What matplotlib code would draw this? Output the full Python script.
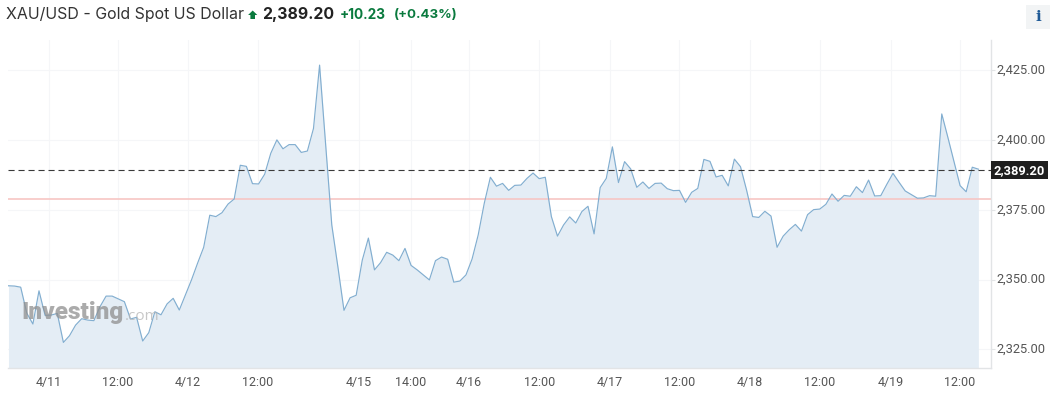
# -*- coding: utf-8 -*-
import numpy as np
import matplotlib
matplotlib.use("Agg")
import matplotlib.pyplot as plt
from matplotlib.patches import Rectangle, Polygon
from matplotlib.transforms import ScaledTranslation

W, H = 1056, 403

prices = [
    2347.8, 2347.7, 2347.3, 2338.0, 2334.1, 2346.0, 2337.2, 2337.3, 2337.9, 2327.5,
    2329.9, 2333.7, 2336.0, 2335.5, 2335.3, 2340.3, 2344.1, 2344.1, 2343.1, 2342.1,
    2335.9, 2336.5, 2328.0, 2331.0, 2338.5, 2337.4, 2341.3, 2343.3, 2339.1, 2344.5,
    2349.9, 2355.9, 2361.6, 2373.1, 2372.6, 2374.0, 2377.1, 2378.9, 2391.0, 2390.6,
    2384.4, 2384.3, 2387.8, 2395.3, 2400.1, 2396.9, 2398.4, 2398.4, 2395.6, 2396.1,
    2404.2, 2426.9, 2398.3, 2369.6, 2354.6, 2339.0, 2343.5, 2344.4, 2357.0, 2364.9,
    2353.5, 2356.1, 2359.8, 2358.8, 2356.8, 2361.2, 2355.1, 2353.5, 2351.7, 2349.9,
    2356.8, 2358.1, 2357.3, 2349.1, 2349.5, 2351.7, 2357.4, 2366.0, 2377.4, 2386.7,
    2383.5, 2384.5, 2382.0, 2383.8, 2383.9, 2386.3, 2388.2, 2386.2, 2386.7, 2372.6,
    2365.6, 2369.6, 2372.5, 2370.3, 2374.4, 2376.3, 2366.4, 2383.0, 2386.3, 2397.6,
    2384.8, 2392.3, 2389.7, 2383.1, 2385.0, 2382.7, 2384.5, 2384.6, 2382.6, 2381.9,
    2382.0, 2377.7, 2381.3, 2382.7, 2393.1, 2392.4, 2386.8, 2387.4, 2383.6, 2393.2,
    2390.5, 2382.1, 2372.6, 2372.3, 2374.5, 2372.8, 2361.6, 2365.6, 2367.9, 2369.8,
    2367.4, 2373.3, 2375.1, 2375.3, 2377.0, 2380.7, 2378.1, 2380.2, 2379.9, 2383.3,
    2381.2, 2385.7, 2380.0, 2380.1, 2384.2, 2388.1, 2384.9, 2381.8, 2380.5, 2379.2,
    2379.3, 2380.1, 2379.9, 2409.4, 2401.0, 2392.3, 2383.7, 2381.5, 2390.3, 2389.6,
]
x_ticks = [6.56, 17.95, 29.4, 40.9, 57.5, 66.0, 75.5, 87.0, 98.6, 110.0, 121.6, 133.0, 144.6, 156.0]
x_labels = ["4/11", "12:00", "4/12", "12:00", "4/15", "14:00", "4/16", "12:00",
            "4/17", "12:00", "4/18", "12:00", "4/19", "12:00"]
y_ticks = [2325, 2350, 2375, 2400, 2425]
y_labels = ["2,325.00", "2,350.00", "2,375.00", "2,400.00", "2,425.00"]
last_price = 2389.2
prev_close = 2378.97

GRID = "#f5f6f8"
AXIS = "#e2e4e6"
TICK_TXT = "#555555"
GREEN = "#0a7a3e"

plt.rcParams["font.family"] = ["Roboto", "DejaVu Sans"]

fig = plt.figure(figsize=(W / 100, H / 100), dpi=100)

# plot area in pixels: x 8..991, y 40..368
ax = fig.add_axes([8 / W, 1 - 368 / H, (991 - 8) / W, (368 - 40) / H])
ax.set_xlim(-0.08, 161.07)
ax.set_ylim(2318.33, 2435.9)

xs = np.arange(len(prices))
ax.fill_between(xs, prices, 2318.33, color="#e4edf5", lw=0, zorder=2)
ax.plot(xs, prices, color="#82aed0", lw=0.85, zorder=3)

ax.axhline(prev_close, color="#f7c6c4", lw=1.2, zorder=2.5)
ax.axhline(last_price, color="#3a3a3a", lw=0.8, dashes=(5.5, 3.5), zorder=4)

ax.set_xticks(x_ticks, x_labels)
ax.set_yticks(y_ticks, y_labels)
ax.yaxis.tick_right()
ax.grid(True, color=GRID, lw=0.8, zorder=1)
ax.set_axisbelow(True)
ax.tick_params(axis="x", length=0, pad=6, labelsize=9, labelcolor=TICK_TXT)
ax.tick_params(axis="y", length=3, width=0.8, color=AXIS, pad=1.2, labelsize=9.3, labelcolor=TICK_TXT)
for lab in ax.get_yticklabels():
    lab.set_transform(lab.get_transform() + ScaledTranslation(0, 1.5 / 100, fig.dpi_scale_trans))
for side in ["top", "left"]:
    ax.spines[side].set_visible(False)
for side in ["right", "bottom"]:
    ax.spines[side].set_color(AXIS)
    ax.spines[side].set_linewidth(1.0)


def px(x, y):
    return x / W, 1 - y / H


# last price tag
fig.add_artist(Rectangle(px(991, 179.5), 57 / W, 18 / H, transform=fig.transFigure,
                         color="#1e1e1e", lw=0, zorder=6))
fig.text(*px(1019.5, 170.5), "2,389.20", color="white", fontsize=9.3, weight="bold",
         ha="center", va="center", zorder=7)

# header
fig.text(*px(6, 15), "XAU/USD - Gold Spot US Dollar", family="Inter", fontsize=11.45,
         color="#333333", va="center")
# up arrow icon
arrow = [px(252.7, 10.5), px(257.3, 15), px(255, 15), px(255, 19), px(250.4, 19), px(250.4, 15), px(248.1, 15)]
fig.add_artist(Polygon(arrow, closed=True, transform=fig.transFigure, color=GREEN, lw=0))
fig.text(*px(262, 15), "2,389.20", family="Inter", fontsize=11.4, weight="bold",
         color="#222222", va="center")
fig.text(*px(340, 15), "+10.23", family="Inter", fontsize=9.8, weight="bold",
         color=GREEN, va="center")
fig.text(*px(394, 15), "(+0.43%)", family="Inter", fontsize=9.6, weight="bold",
         color=GREEN, va="center")

# info button
fig.add_artist(Rectangle(px(1026, 29), 24 / W, 24 / H, transform=fig.transFigure,
                         color="#f2f4f5", lw=0, zorder=6))
fig.text(*px(1038, 17), "i", family="DejaVu Serif", fontsize=11, weight="bold",
         color="#1f5a96", ha="center", va="center", zorder=7)

# watermark
fig.text(*px(21, 313), "Investing", family="Roboto", fontsize=17.6, weight="black",
         color="#8f8f8f", alpha=0.75, va="center", zorder=8)
fig.text(*px(125, 316), ".com", family="Open Sans", fontsize=11, color="#b5b5b5",
         alpha=0.75, va="center", zorder=8)

fig.savefig("out.png", dpi=100)
